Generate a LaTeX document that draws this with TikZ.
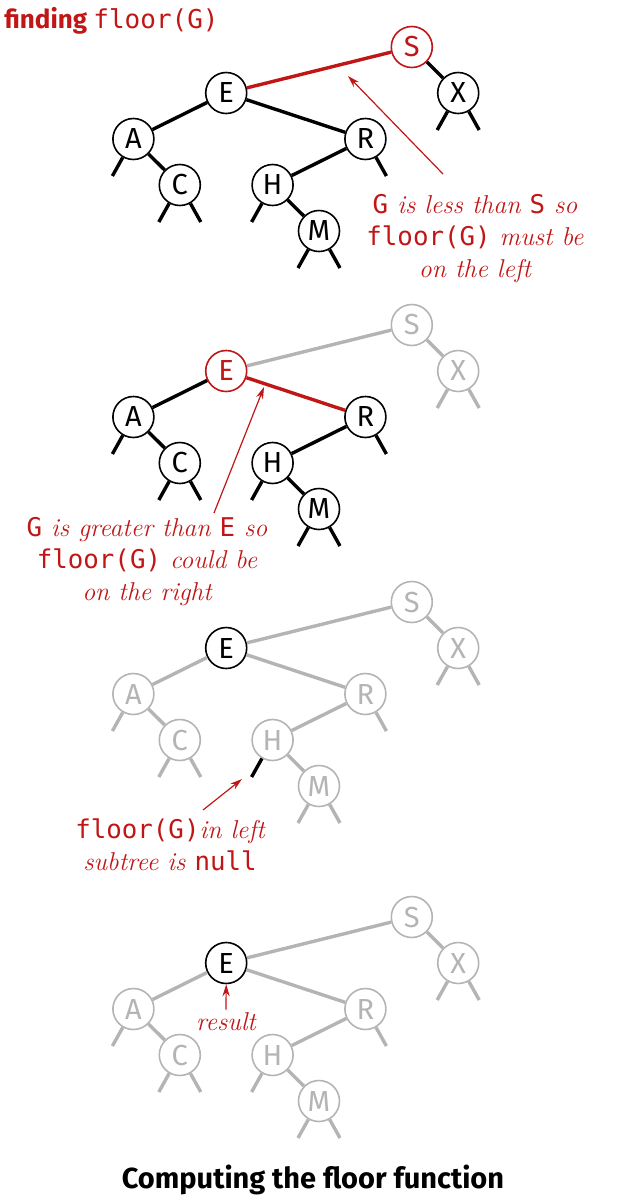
\documentclass[tikz,border=0pt]{standalone}
\usepackage{fontspec}
\setsansfont{Fira Sans}
\setmonofont{DejaVu Sans Mono}
\usetikzlibrary{arrows.meta}

\definecolor{floorred}{RGB}{192,22,22}
\definecolor{floorgray}{RGB}{180,180,180}

\newcommand\code[1]{{\upshape\ttfamily #1}}

\tikzset{
    bstkey/.style={circle, draw, line width=0.8pt, minimum size=20.5pt, inner sep=0pt,
        font=\sffamily\fontsize{14.5}{14.5}\selectfont},
    bstlink/.style={line width=1.7pt},
    hot/.style={draw=floorred, text=floorred},
    dim/.style={draw=floorgray, text=floorgray},
    ink/.style={draw=black, text=black},
    tone/.style=ink,
    note/.style={text=floorred, align=center, font=\itshape\fontsize{12.9}{16}\selectfont},
    notearrow/.style={draw=floorred, line width=0.6pt, -{Stealth[length=6pt,width=3.6pt]}},
}

% one copy of the BST: #1 = name prefix, #2 = y offset
\newcommand\floortree[2]{%
    \foreach \nm/\ord/\lev in {A/1/2,C/2/3,E/3/1,H/4/3,M/5/4,R/6/2,S/7/0,X/8/1}
        \node[bstkey, tone, k\nm/.try] (#1\nm) at (87+46.4*\ord, #2+47+46*\lev) {\nm};
    \foreach \up/\dn in {S/E,S/X,E/A,E/R,A/C,R/H,H/M}
        \draw[bstlink, tone, l\dn/.try] (#1\up) -- (#1\dn);
    % null links
    \foreach \nm/\sd/\ang/\dx in {A/l/240/-21,C/l/240/-21,C/r/300/21,H/l/240/-21,
            M/l/240/-21,M/r/300/21,R/r/300/21,X/l/240/-21,X/r/300/21} {
        \path (#1\nm) ++(\dx,37) coordinate (#1\nm\sd);
        \draw[bstlink, tone, n\nm\sd/.try] (#1\nm.\ang) -- (#1\nm\sd);
    }
}

\begin{document}
\begin{tikzpicture}[x=0.5pt, y=-0.5pt]
    \useasboundingbox (0,0) rectangle (623,1200);

    \node[anchor=base west, inner sep=0pt, text=floorred,
        font=\sffamily\bfseries\fontsize{13}{13}\selectfont]
        (heading) at (4,28) {finding {\normalfont\ttfamily floor(G)}};

    % compare with S
    \begin{scope}[kS/.style=hot, lE/.style=hot]
        \floortree{a}{0}
    \end{scope}
    \node[note, anchor=base] (lessnote) at (475,277)
        {\code{G} is less than \code{S} so\\ \code{floor(G)} must be\\ on the left};
    \coordinate (lesstail) at (443,174);
    \coordinate (lesstip) at (348,76);
    \draw[notearrow] (lesstail) -- (lesstip);

    % compare with E
    \begin{scope}[kS/.style=dim, kX/.style=dim, lE/.style=dim, lX/.style=dim,
            nXl/.style=dim, nXr/.style=dim, kE/.style=hot, lR/.style=hot]
        \floortree{b}{278}
    \end{scope}
    \node[note, anchor=base] (greaternote) at (147,600)
        {\code{G} is greater than \code{E} so\\ \code{floor(G)} could be\\ on the right};
    \coordinate (greatertail) at (214,513);
    \coordinate (greatertip) at (264,387);
    \draw[notearrow] (greatertail) -- (greatertip);

    % left subtree of H is null
    \begin{scope}[tone/.style=dim, kE/.style=ink, nHl/.style=ink]
        \floortree{c}{555}
    \end{scope}
    \node[note, anchor=base] (nullnote) at (170,870)
        {\code{floor(G)}in left\\ subtree is \code{null}};
    \coordinate (nulltail) at (203,810);
    \coordinate (nulltip) at (242,779);
    \draw[notearrow] (nulltail) -- (nulltip);

    % result
    \begin{scope}[tone/.style=dim, kE/.style=ink]
        \floortree{d}{870}
    \end{scope}
    \node[note, anchor=base, inner sep=1pt] (result) at (226,1030) {result};
    \draw[notearrow] (result.north) -- (dE.south);

    \node[anchor=base, font=\sffamily\bfseries\fontsize{14.5}{14.5}\selectfont]
        (caption) at (313,1188) {Computing the floor function};
\end{tikzpicture}
\end{document}
